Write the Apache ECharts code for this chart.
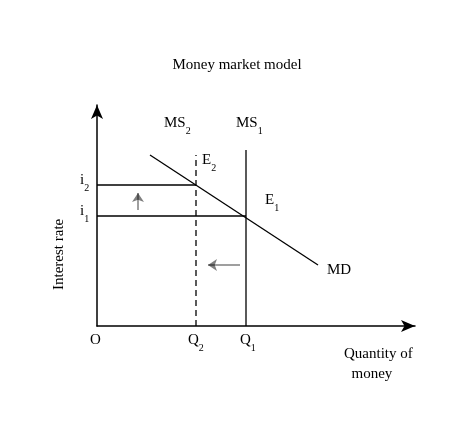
<!DOCTYPE html>
<html><head><meta charset="utf-8">
<script src="https://cdn.jsdelivr.net/npm/echarts@6/dist/echarts.min.js"></script>
<style>html,body{margin:0;background:#fff}#c{width:474px;height:428px}</style>
</head><body><div id="c"></div>
<script>
// data units: quantity (x) and interest rate (y)
const q1 = 149, q2 = 99;
const i1 = 110, i2 = 141;
const mdLine = [[53, 171], [221, 61]];
const ms1Line = [[q1, 0], [q1, 176]];
const ms2Line = [[q2, 0], [q2, 171]];
const i1Line = [[0, i1], [q1, i1]];
const i2Line = [[0, i2], [q2, i2]];
const upArrow = [[41, 116], [41, 133]];
const leftArrow = [[143, 61], [111, 61]];

const F = 'Liberation Serif';
const sub = { fontFamily: F, fontSize: 10, color: '#000', verticalAlign: 'bottom', padding: [0, 0, -5, 0] };
const rich = { s: sub };
const lbl = (x, y, txt) => ({ coord: [x, y], value: txt });

const line = (data, dashed) => ({
  type: 'line', data, symbol: 'none', silent: true,
  lineStyle: { color: '#000', width: 1.3, type: dashed ? [6, 4] : 'solid' }
});
const arrow = (data) => ({
  type: 'lines', coordinateSystem: 'cartesian2d', silent: true,
  data: [{ coords: data }],
  symbol: ['none', 'arrow'], symbolSize: 9,
  lineStyle: { color: '#000', width: 1.5 }
});

const chart = echarts.init(document.getElementById('c'));
chart.setOption({
  animation: false,
  grid: { left: 97, right: 59, top: 105, bottom: 102 },
  xAxis: { type: 'value', min: 0, max: 318, splitLine: { show: false }, axisTick: { show: false }, axisLabel: { show: false },
    axisLine: { lineStyle: { color: '#000', width: 1.5 }, symbol: ['none', 'arrow'], symbolSize: [9, 14] } },
  yAxis: { type: 'value', min: 0, max: 221, splitLine: { show: false }, axisTick: { show: false }, axisLabel: { show: false },
    axisLine: { lineStyle: { color: '#000', width: 1.5 }, symbol: ['none', 'arrow'], symbolSize: [9, 14] } },
  series: [
    line(mdLine), line(ms1Line), line(ms2Line, true), line(i1Line), line(i2Line),
    arrow(upArrow), arrow(leftArrow)
  ],
  graphic: [
    { type: 'text', left: 'center', top: 58, style: { text: 'Money market model', font: '15px ' + F, fill: '#000' } },
    { type: 'text', x: 164, y: 116, style: { text: 'MS{s|2}', rich, font: '15px ' + F, fill: '#000' } },
    { type: 'text', x: 236, y: 116, style: { text: 'MS{s|1}', rich, font: '15px ' + F, fill: '#000' } },
    { type: 'text', x: 202, y: 153, style: { text: 'E{s|2}', rich, font: '15px ' + F, fill: '#000' } },
    { type: 'text', x: 265, y: 193, style: { text: 'E{s|1}', rich, font: '15px ' + F, fill: '#000' } },
    { type: 'text', x: 327, y: 263, style: { text: 'MD', font: '15px ' + F, fill: '#000' } },
    { type: 'text', x: 80, y: 173, style: { text: 'i{s|2}', rich, font: '15px ' + F, fill: '#000' } },
    { type: 'text', x: 80, y: 204, style: { text: 'i{s|1}', rich, font: '15px ' + F, fill: '#000' } },
    { type: 'text', x: 90, y: 333, style: { text: 'O', font: '15px ' + F, fill: '#000' } },
    { type: 'text', x: 188, y: 333, style: { text: 'Q{s|2}', rich, font: '15px ' + F, fill: '#000' } },
    { type: 'text', x: 240, y: 333, style: { text: 'Q{s|1}', rich, font: '15px ' + F, fill: '#000' } },
    { type: 'text', x: 344, y: 344, style: { text: 'Quantity of\n  money', font: '15px ' + F, fill: '#000', lineHeight: 20 } },
    { type: 'text', x: 52, y: 290, rotation: Math.PI / 2, style: { text: 'Interest rate', font: '15px ' + F, fill: '#000' } }
  ]
});
</script></body></html>
